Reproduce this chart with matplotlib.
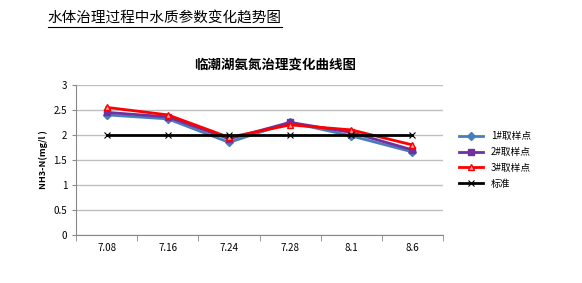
import matplotlib.pyplot as plt
import numpy as np

plt.rcParams['font.family'] = ['Noto Sans CJK SC', 'DejaVu Sans']

dates = ["7.08", "7.16", "7.24", "7.28", "8.1", "8.6"]
site1 = [2.40, 2.32, 1.85, 2.25, 1.98, 1.66]
site2 = [2.45, 2.36, 1.92, 2.25, 2.05, 1.70]
site3 = [2.55, 2.40, 1.95, 2.20, 2.10, 1.80]
standard = [2, 2, 2, 2, 2, 2]

fig = plt.figure(figsize=(5.82, 2.83), dpi=100)
ax = fig.add_axes([0.131, 0.170, 0.630, 0.530])

x = np.arange(len(dates))
ax.plot(x, site1, color="#4a7ebb", lw=2, marker="D", ms=4, label="1#取样点")
ax.plot(x, site2, color="#7030a0", lw=2, marker="s", ms=4, label="2#取样点")
ax.plot(x, site3, color="#ff0000", lw=2, marker="^", ms=5, mfc="#f4a0a0", label="3#取样点")
ax.plot(x, standard, color="black", lw=2, marker="x", ms=5, mew=0.8, label="标准")

ax.set_xlim(-0.5, len(dates) - 0.5)
ax.set_ylim(0, 3)
ax.set_yticks(np.arange(0, 3.01, 0.5))
ax.set_yticklabels(["0", "0.5", "1", "1.5", "2", "2.5", "3"])
ax.set_xticks(x)
ax.set_xticklabels(dates)
ax.set_xticks(np.arange(-0.5, len(dates), 1), minor=True)
ax.tick_params(axis="x", which="major", length=0, labelsize=7, pad=6)
ax.tick_params(axis="x", which="minor", length=4, color="#888888")
ax.tick_params(axis="y", length=3, labelsize=7, color="#888888")
ax.grid(axis="y", color="#bfbfbf", lw=1)
ax.set_axisbelow(True)
for s in ["top", "right"]:
    ax.spines[s].set_visible(False)
ax.spines["left"].set_color("#888888")
ax.spines["bottom"].set_color("#888888")

ax.set_ylabel("NH3-N(mg/l )", fontsize=6.5, fontweight="bold")
# title sits centred over plot + legend, not the axes alone
ax.set_title("临潮湖氨氮治理变化曲线图", fontsize=9.7, fontweight="bold",
             pad=11, x=0.542)

ax.legend(loc="center left", bbox_to_anchor=(1.02, 0.5), frameon=False,
          fontsize=7, handlelength=2.5, labelspacing=0.6)

fig.text(0.082, 0.935, "水体治理过程中水质参数变化趋势图", fontsize=10.5,
         fontweight="medium", ha="left", va="center")
fig.add_artist(plt.Line2D([0.082, 0.485], [0.903, 0.903], color="black", lw=0.8))

fig.savefig("out.png", dpi=100)
